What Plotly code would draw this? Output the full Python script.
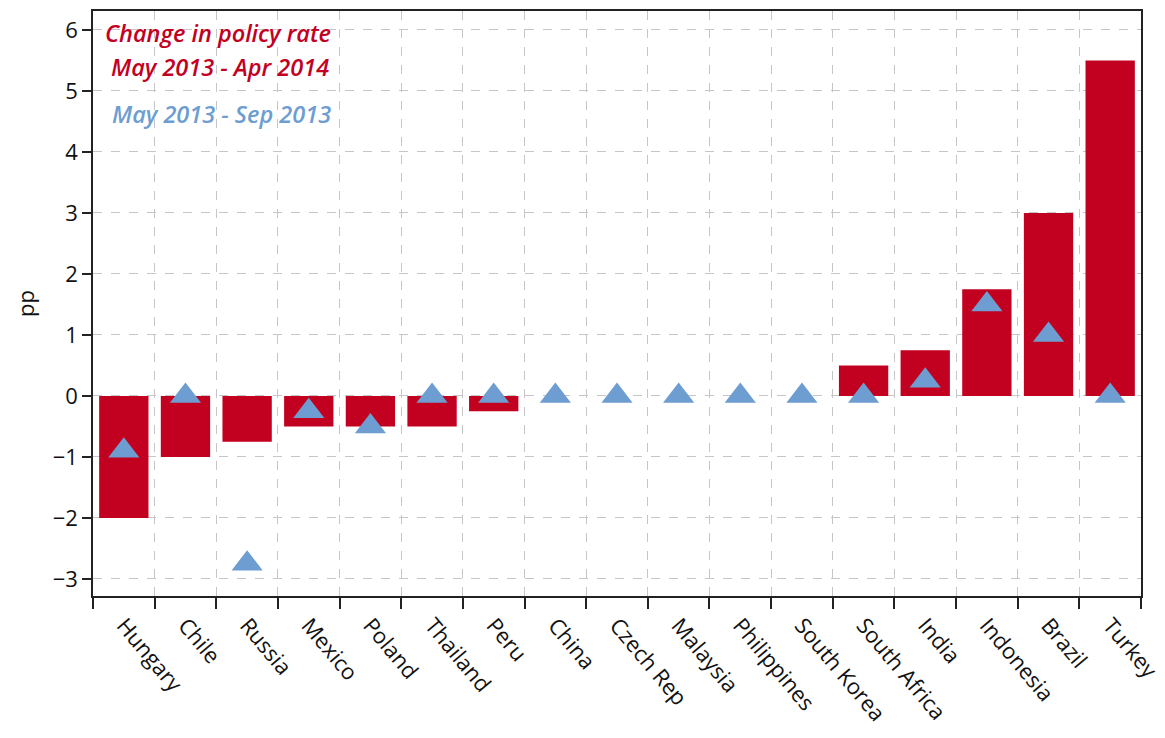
import plotly.graph_objects as go

# Emerging-market policy rate changes (percentage points)
countries = ["Hungary", "Chile", "Russia", "Mexico", "Poland", "Thailand", "Peru",
             "China", "Czech Rep", "Malaysia", "Philippines", "South Korea",
             "South Africa", "India", "Indonesia", "Brazil", "Turkey"]
change_may13_apr14 = [-2.0, -1.0, -0.75, -0.5, -0.5, -0.5, -0.25,
                      0, 0, 0, 0, 0,
                      0.5, 0.75, 1.75, 3.0, 5.5]
change_may13_sep13 = [-0.9, 0, -2.75, -0.25, -0.5, 0, 0,
                      0, 0, 0, 0, 0,
                      0, 0.25, 1.5, 1.0, 0]

RED = "#C2001F"
BLUE = "#6E9DD1"
GRID = "#C6C6C6"
FONT = "Open Sans"

fig = go.Figure()
fig.add_trace(go.Bar(
    x=countries, y=change_may13_apr14,
    marker=dict(color=RED, line=dict(width=0)),
    width=0.8,
))
fig.add_trace(go.Scatter(
    x=countries, y=change_may13_sep13, mode="markers",
    marker=dict(symbol="triangle-up", size=27, color=BLUE, line=dict(width=0)),
))

fig.update_layout(
    width=1165, height=738,
    margin=dict(l=93, r=24, t=11, b=142),
    paper_bgcolor="white", plot_bgcolor="white",
    showlegend=False,
    font=dict(family=FONT, size=22, color="#111111"),
    xaxis=dict(
        type="category", tickson="boundaries", automargin=False,
        range=[-0.5, len(countries) - 0.5],
        ticks="outside", ticklen=11, tickwidth=1.5, tickcolor="#222222",
        showgrid=True, gridcolor=GRID, griddash="dash", gridwidth=1,
        showline=True, linecolor="#222222", linewidth=1.5, mirror=True,
        tickangle=50, ticklabelstandoff=6,
        tickfont=dict(family=FONT, size=22, color="#111111"),
    ),
    yaxis=dict(
        range=[-3.28, 6.31], automargin=False,
        tickvals=[-3, -2, -1, 0, 1, 2, 3, 4, 5, 6],
        ticks="outside", ticklen=9, tickwidth=1.5, tickcolor="#222222",
        showgrid=True, gridcolor=GRID, griddash="dash", gridwidth=1,
        zeroline=False,
        showline=True, linecolor="#222222", linewidth=1.5, mirror=True,
        tickfont=dict(family=FONT, size=22, color="#111111"),
        title=dict(text="pp", font=dict(family=FONT, size=22, color="#111111"), standoff=12),
    ),
)

label_font_red = dict(family=FONT, size=23.5, color=RED, style="italic", weight=600)
label_font_blue = dict(family=FONT, size=23.5, color=BLUE, style="italic", weight=600)
fig.add_annotation(text="Change in policy rate", xref="paper", yref="paper",
                   x=0.119, y=0.962, xanchor="center", yanchor="middle",
                   showarrow=False, font=label_font_red)
fig.add_annotation(text="May 2013 - Apr 2014", xref="paper", yref="paper",
                   x=0.121, y=0.904, xanchor="center", yanchor="middle",
                   showarrow=False, font=label_font_red)
fig.add_annotation(text="May 2013 - Sep 2013", xref="paper", yref="paper",
                   x=0.123, y=0.824, xanchor="center", yanchor="middle",
                   showarrow=False, font=label_font_blue)

fig.write_html("out.html")
